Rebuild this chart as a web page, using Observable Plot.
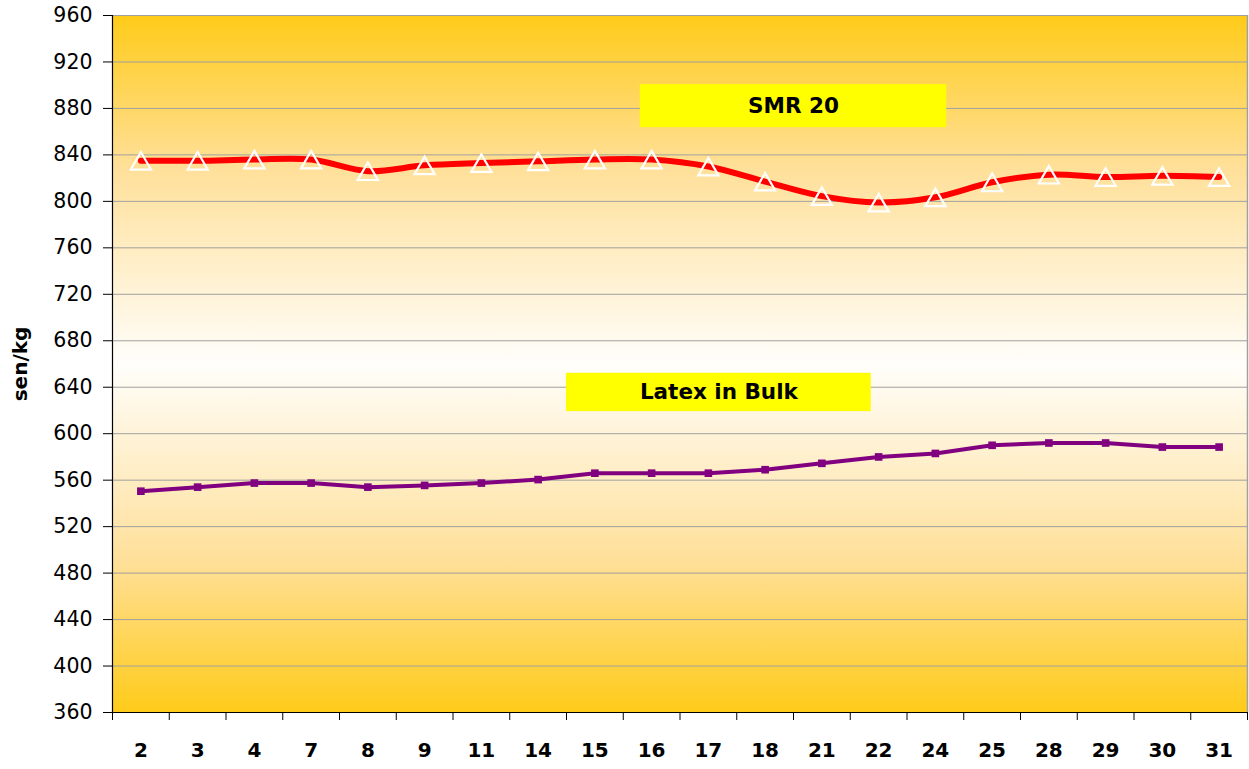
<!DOCTYPE html>
<html><head><meta charset="utf-8">
<script src="https://cdn.jsdelivr.net/npm/d3@7"></script>
<script src="https://cdn.jsdelivr.net/npm/@observablehq/plot@0.6"></script>
<style>
body{margin:0;background:#fff;}
</style></head><body><div id="chart"></div>
<script>
const days = ["2","3","4","7","8","9","11","14","15","16","17","18","21","22","24","25","28","29","30","31"];
const smr20 = [835,835,836,836,826,831,833,834.5,836,836,830,817,804.5,799,803.5,816.5,823,821,822,821];
const latex = [550.5,554,557.5,557.5,554,555.5,557.5,560.5,566,566,566,569,574.5,580,583,590,592,592,588.5,588.5];
const yTicks = d3.range(360, 961, 40);
const labels = [
  {text:"SMR 20", x1:8.8, x2:14.2, y1:863.5, y2:900.5},
  {text:"Latex in Bulk", x1:7.5, x2:12.87, y1:619, y2:652}
];

const idx = days.map((d,i)=>i);
const bounds = d3.range(days.length+1).map(i=>i-0.5);
const F = "DejaVu Sans, Verdana, sans-serif";

const plot = Plot.plot({
  width:1249, height:769,
  marginLeft:112, marginRight:2, marginTop:15, marginBottom:57,
  x:{type:"linear", domain:[-0.5, days.length-0.5]},
  y:{domain:[360,960]},
  style:{fontFamily:F, background:"transparent"},
  marks:[
    Plot.frame({fill:"url(#bg)", stroke:"none"}),
    Plot.gridY(yTicks, {stroke:"#a0a0a0", strokeOpacity:1, strokeWidth:1}),
    Plot.ruleX([days.length-0.5], {stroke:"#a0a0a0", strokeWidth:1.5}),
    Plot.ruleX([-0.5], {stroke:"#000", strokeWidth:1.2}),
    Plot.ruleY([360], {stroke:"#000", strokeWidth:1.2}),
    Plot.axisY({ticks:yTicks, tickSize:9, tickPadding:11, fontSize:20.5, fontFamily:F, label:null, stroke:"#000", fill:"#000"}),
    Plot.axisX({ticks:bounds, tickSize:8, tickFormat:()=>"", label:null}),
    Plot.axisX({ticks:idx, tickSize:0, tickPadding:30, tickFormat:i=>days[i], fontSize:20, fontWeight:"bold", fontFamily:F, label:null, fill:"#000"}),
    Plot.rect(labels, {x1:"x1", x2:"x2", y1:"y1", y2:"y2", fill:"#ffff00"}),
    Plot.text(labels, {x:d=>(d.x1+d.x2)/2, y:d=>(d.y1+d.y2)/2, text:"text", fontSize:21.5, fontWeight:"bold", fontFamily:F, fill:"#000"}),
    Plot.line(idx, {x:i=>i, y:i=>smr20[i], stroke:"#ff0000", strokeWidth:6, curve:"catmull-rom"}),
    Plot.dot(idx, {x:i=>i, y:i=>smr20[i], symbol:"triangle", r:7.5, dy:3, stroke:"#fff", strokeWidth:2.2, fill:"none"}),
    Plot.line(idx, {x:i=>i, y:i=>latex[i], stroke:"#800080", strokeWidth:4}),
    Plot.dot(idx, {x:i=>i, y:i=>latex[i], symbol:"square", r:4.3, fill:"#800080", stroke:"none"}),
    Plot.text(["sen/kg"], {frameAnchor:"left", dx:-92, rotate:-90, textAnchor:"middle", text:d=>d, fontSize:20, fontWeight:"bold", fontFamily:F, fill:"#000"})
  ]
});

const ns = "http://www.w3.org/2000/svg";
const defs = document.createElementNS(ns, "defs");
defs.innerHTML = `<linearGradient id="bg" x1="0" y1="0" x2="0" y2="1">
<stop offset="0" stop-color="#ffcb19"/>
<stop offset="0.22" stop-color="#ffe09a"/>
<stop offset="0.5" stop-color="#fffefb"/>
<stop offset="0.78" stop-color="#ffe09a"/>
<stop offset="1" stop-color="#ffcb19"/>
</linearGradient>`;
plot.insertBefore(defs, plot.firstChild);
document.getElementById("chart").appendChild(plot);
</script></body></html>
